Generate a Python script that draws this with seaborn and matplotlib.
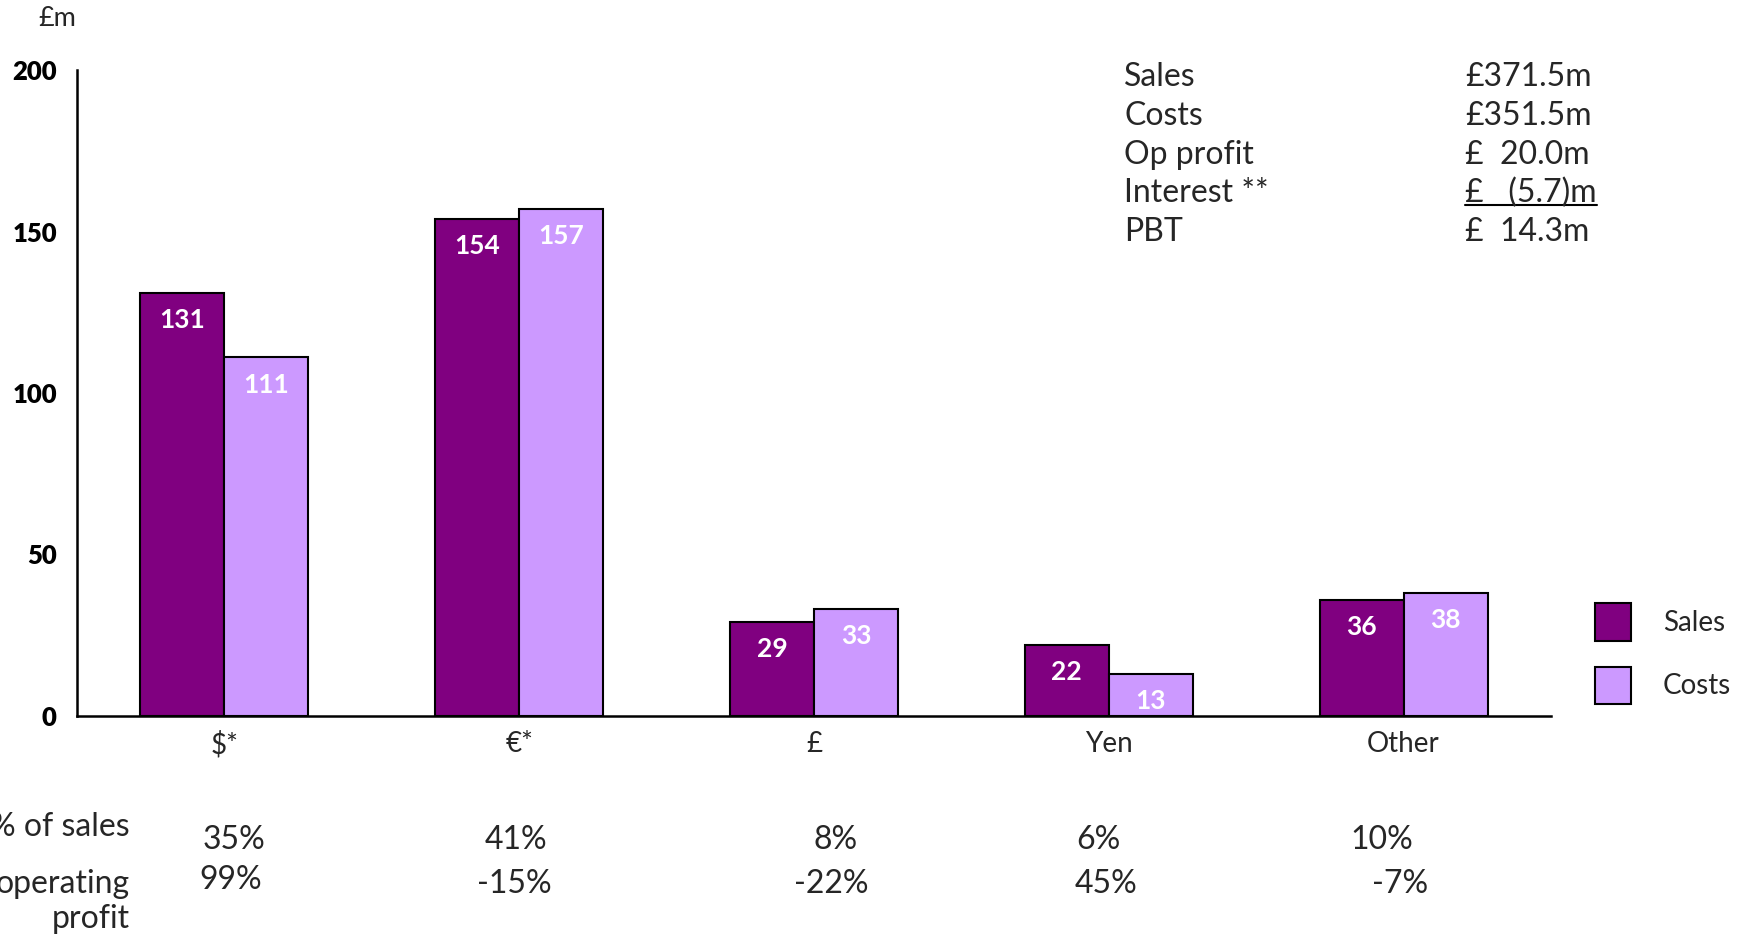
import numpy as np
import pandas as pd
import matplotlib
matplotlib.use("Agg")
import matplotlib.pyplot as plt
from matplotlib.patches import Patch
from matplotlib.lines import Line2D
import seaborn as sns

# Sales and costs by currency, £m
currencies = ["$*", "€*", "£", "Yen", "Other"]
sales = [131, 154, 29, 22, 36]
costs = [111, 157, 33, 13, 38]

# Share rows printed under the chart
pct_of_sales = ["35%", "41%", "8%", "6%", "10%"]
pct_of_op_profit = ["99%", "-15%", "-22%", "45%", "-7%"]

# Group summary block
summary_labels = ["Sales", "Costs", "Op profit", "Interest **", "PBT"]
summary_values = ["£371.5m", "£351.5m", "£  20.0m", "£   (5.7)m", "£  14.3m"]

y_ticks = [0, 50, 100, 150, 200]
series_names = ["Sales", "Costs"]

SALES_COLOR = "#800080"
COSTS_COLOR = "#CC99FF"
W, H = 1740, 934

df = pd.DataFrame({
    "currency": currencies * 2,
    "series": ["Sales"] * len(sales) + ["Costs"] * len(costs),
    "value": sales + costs,
})

sns.set_style("white")
plt.rcParams["font.family"] = ["Lato", "DejaVu Sans"]
FS = 20        # category labels and legend
FS_TXT = 23    # summary block and share rows

fig = plt.figure(figsize=(W / 100, H / 100), dpi=100)
ax = fig.add_axes([77 / W, 1 - 716 / H, (1551 - 77) / W, (716 - 70) / H])

palette = {"Sales": SALES_COLOR, "Costs": COSTS_COLOR}
sns.barplot(data=df, x="currency", y="value", hue="series", order=currencies,
            hue_order=series_names, palette=palette, saturation=1, width=0.57,
            edgecolor="black", linewidth=1.5, errorbar=None, legend=False, ax=ax)

ax.set_xlim(-0.5, len(currencies) - 0.5)
ax.set_ylim(0, 200)
ax.set_xlabel("")
ax.set_ylabel("")
for side in ("top", "right"):
    ax.spines[side].set_visible(False)
for side in ("left", "bottom"):
    ax.spines[side].set_color("black")
    ax.spines[side].set_linewidth(1.8)

ax.set_yticks(y_ticks)
ax.set_yticklabels([str(t) for t in y_ticks], fontweight="heavy", fontsize=18.5)
ax.tick_params(axis="y", direction="out", length=6.5, width=1.5, pad=8, colors="black")

# boundary ticks between categories, labels centred on each group
ax.set_xticks(np.arange(-0.5, len(currencies), 1.0))
ax.set_xticklabels([])
ax.tick_params(axis="x", which="major", direction="out", length=6, width=1.5, colors="black")
ax.set_xticks(range(len(currencies)), minor=True)
ax.set_xticklabels(currencies, minor=True, fontsize=FS)
ax.tick_params(axis="x", which="minor", length=0, pad=11)

# value labels inside bar tops
for container, values in zip(ax.containers, [sales, costs]):
    for patch, v in zip(container.patches, values):
        ax.annotate(str(v), (patch.get_x() + patch.get_width() / 2, patch.get_height()),
                    xytext=(0, -19.5), textcoords="offset points", ha="center",
                    va="center", color="white", fontweight="bold", fontsize=19)

# legend
handles = [Patch(facecolor=palette[s], edgecolor="black", linewidth=1.5) for s in series_names]
fig.legend(handles, series_names, loc="upper left",
           bbox_to_anchor=(1595 / W, 1 - 603 / H), bbox_transform=fig.transFigure,
           frameon=False, borderpad=0, borderaxespad=0, fontsize=FS,
           handlelength=1.3, handleheight=1.71, handletextpad=1.15, labelspacing=0.93)

fig.text(57 / W, 1 - 19 / H, "£m", ha="center", va="center", fontsize=19.5)

# summary block, top right
value_texts = []
for i, (lab, val) in enumerate(zip(summary_labels, summary_values)):
    base = 86.5 + i * 38.6
    fig.text(1124 / W, 1 - base / H, lab, ha="left", va="baseline", fontsize=FS_TXT)
    value_texts.append(fig.text(1465 / W, 1 - base / H, val, ha="left",
                                va="baseline", fontsize=FS_TXT))

# share rows beneath the axis
fig.text(130 / W, 1 - 827 / H, "% of sales", ha="right", va="center", fontsize=FS_TXT)
fig.text(130 / W, 1 - 884 / H, "operating", ha="right", va="center", fontsize=FS_TXT)
fig.text(130 / W, 1 - 919 / H, "profit", ha="right", va="center", fontsize=FS_TXT)

row1_nudge = [10, -3, 22, -10, -22]
row2_nudge = [6, -5, 17, -3, -4]
row2_y = [880, 884, 884, 884, 884]
for i, (p1, p2) in enumerate(zip(pct_of_sales, pct_of_op_profit)):
    ax.annotate(p1, (i, H - 840), xycoords=("data", "figure pixels"),
                xytext=(row1_nudge[i], 0), textcoords="offset pixels",
                ha="center", va="center", fontsize=FS_TXT, annotation_clip=False)
    ax.annotate(p2, (i, H - row2_y[i]), xycoords=("data", "figure pixels"),
                xytext=(row2_nudge[i], 0), textcoords="offset pixels",
                ha="center", va="center", fontsize=FS_TXT, annotation_clip=False)

# underline the interest figure
fig.canvas.draw()
bb = value_texts[3].get_window_extent(fig.canvas.get_renderer())
uy = (H - 205) / H
fig.add_artist(Line2D([bb.x0 / W, bb.x1 / W], [uy, uy], transform=fig.transFigure,
                      color="black", linewidth=1.5))

fig.savefig("out.png", dpi=100)
